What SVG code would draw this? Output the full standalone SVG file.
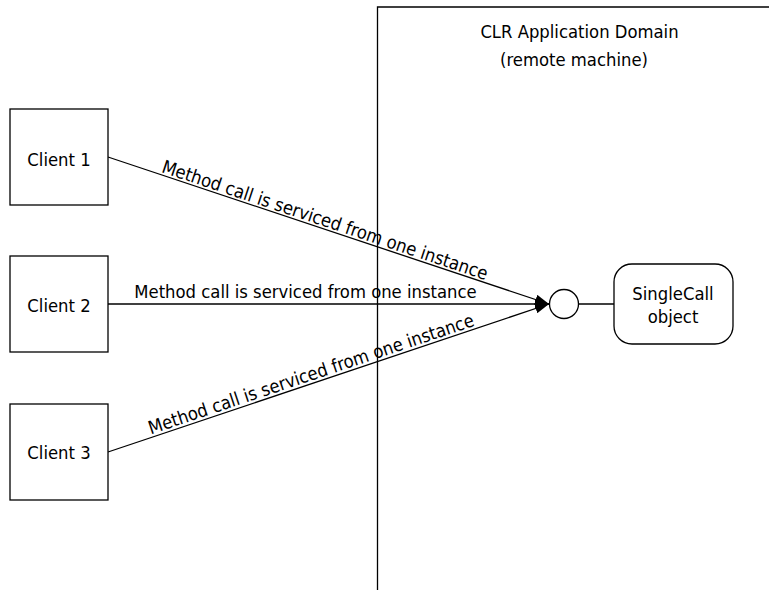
<svg xmlns="http://www.w3.org/2000/svg" width="769" height="590" viewBox="0 0 769 590">
<defs>
<marker id="arr" viewBox="0 0 14 10" refX="14" refY="5" markerWidth="14" markerHeight="10" markerUnits="userSpaceOnUse" orient="auto">
<path d="M0,0 L14,5 L0,10 Z" fill="#000"/>
</marker>
</defs>
<style>
text{font-family:"DejaVu Sans Condensed","DejaVu Sans",sans-serif;font-size:18.3px;fill:#000}
.mid{text-anchor:middle}
.box{fill:#fff;stroke:#000;stroke-width:1.3}
.ln{fill:none;stroke:#000;stroke-width:1.3}
</style>
<g id="domain">
<path class="ln" d="M377.5,590 L377.5,7 L769,7"/>
<text class="mid" x="579.5" y="38">CLR Application Domain</text>
<text class="mid" x="574" y="66">(remote machine)</text>
</g>
<g id="connectors">
<line class="ln" x1="108" y1="157" x2="549" y2="304" marker-end="url(#arr)"/>
<line class="ln" x1="108" y1="304" x2="549" y2="304" marker-end="url(#arr)"/>
<line class="ln" x1="108" y1="452" x2="549" y2="304" marker-end="url(#arr)"/>
<line class="ln" x1="578" y1="304" x2="614" y2="304"/>
<text class="mid" transform="translate(323,226) rotate(18.43)">Method call is serviced from one instance</text>
<text class="mid" x="305.5" y="298">Method call is serviced from one instance</text>
<text class="mid" transform="translate(313,380) rotate(-18.55)">Method call is serviced from one instance</text>
</g>
<g id="client1">
<rect class="box" x="10" y="109" width="98" height="96"/>
<text class="mid" x="59" y="166">Client 1</text>
</g>
<g id="client2">
<rect class="box" x="10" y="256" width="98" height="96"/>
<text class="mid" x="59" y="312">Client 2</text>
</g>
<g id="client3">
<rect class="box" x="10" y="404" width="98" height="96"/>
<text class="mid" x="59" y="459">Client 3</text>
</g>
<g id="port">
<circle class="box" cx="564" cy="304" r="14.5"/>
</g>
<g id="singlecall">
<rect class="box" x="614" y="264" width="119" height="80" rx="18" ry="18"/>
<text class="mid" x="673" y="300">SingleCall</text>
<text class="mid" x="673" y="323">object</text>
</g>
</svg>
